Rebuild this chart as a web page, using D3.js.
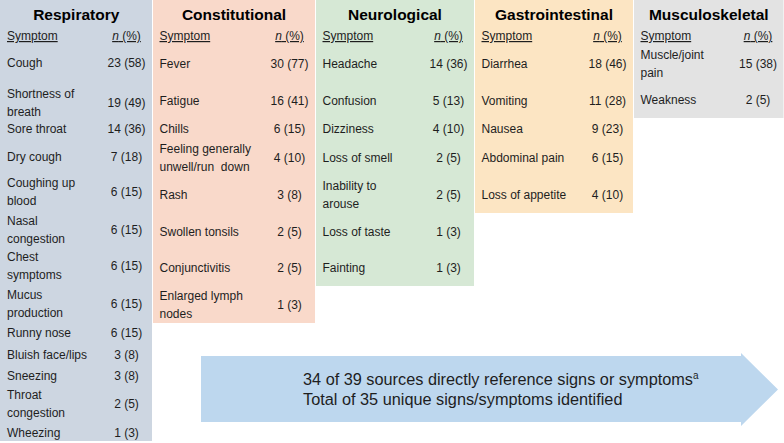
<!DOCTYPE html>
<html>
<head>
<meta charset="utf-8">
<script src="https://cdn.jsdelivr.net/npm/d3@7"></script>
<style>
  html, body { margin: 0; padding: 0; background: #ffffff; }
  svg { display: block; font-family: "Liberation Sans", Arial, sans-serif; }
</style>
</head>
<body>
<div id="chart"></div>
<script>
// ---------------- DATA ----------------
const categories = ["Respiratory", "Constitutional", "Neurological", "Gastrointestinal", "Musculoskeletal"];

const respiratorySymptoms = ["Cough", "Shortness of\nbreath", "Sore throat", "Dry cough", "Coughing up\nblood",
  "Nasal\ncongestion", "Chest\nsymptoms", "Mucus\nproduction", "Runny nose", "Bluish face/lips",
  "Sneezing", "Throat\ncongestion", "Wheezing"];
const respiratoryN   = [23, 19, 14, 7, 6, 6, 6, 6, 6, 3, 3, 2, 1];
const respiratoryPct = [58, 49, 36, 18, 15, 15, 15, 15, 15, 8, 8, 5, 3];

const constitutionalSymptoms = ["Fever", "Fatigue", "Chills", "Feeling generally\nunwell/run  down", "Rash",
  "Swollen tonsils", "Conjunctivitis", "Enlarged lymph\nnodes"];
const constitutionalN   = [30, 16, 6, 4, 3, 2, 2, 1];
const constitutionalPct = [77, 41, 15, 10, 8, 5, 5, 3];

const neurologicalSymptoms = ["Headache", "Confusion", "Dizziness", "Loss of smell", "Inability to\narouse",
  "Loss of taste", "Fainting"];
const neurologicalN   = [14, 5, 4, 2, 2, 1, 1];
const neurologicalPct = [36, 13, 10, 5, 5, 3, 3];

const gastroSymptoms = ["Diarrhea", "Vomiting", "Nausea", "Abdominal pain", "Loss of appetite"];
const gastroN   = [18, 11, 9, 6, 4];
const gastroPct = [46, 28, 23, 15, 10];

const muscoSymptoms = ["Muscle/joint\npain", "Weakness"];
const muscoN   = [15, 2];
const muscoPct = [38, 5];

const headerLabels = ["Symptom", "n", " (%)"];
const arrowLines = ["34 of 39 sources directly reference signs or symptoms", "Total of 35 unique signs/symptoms identified"];
const arrowSuperscript = "a";

// ---------------- LAYOUT / STYLE ----------------
const W = 784, H = 443;
const panelEdges = [0, 152.5, 315.5, 474.5, 633.5, 784];
const panelColors = ["#cdd6e1", "#f9d9ca", "#d6e8d5", "#fce5c3", "#e3e3e3"];
const rowCentersRespiratory = [63, 102.5, 129, 157, 192, 230, 266, 304, 333, 355, 376, 404, 433];
const rowCentersCommon = [64, 101, 129, 158, 195, 232, 268, 305];
const rowCentersMusco = [64, 100];
const textColor = "#1e1e1e";

const panels = [
  {name: categories[0], s: respiratorySymptoms, n: respiratoryN, p: respiratoryPct, rows: rowCentersRespiratory},
  {name: categories[1], s: constitutionalSymptoms, n: constitutionalN, p: constitutionalPct, rows: rowCentersCommon},
  {name: categories[2], s: neurologicalSymptoms, n: neurologicalN, p: neurologicalPct, rows: rowCentersCommon},
  {name: categories[3], s: gastroSymptoms, n: gastroN, p: gastroPct, rows: rowCentersCommon},
  {name: categories[4], s: muscoSymptoms, n: muscoN, p: muscoPct, rows: rowCentersMusco}
];

const svg = d3.select("#chart").append("svg")
  .attr("width", W).attr("height", H)
  .attr("viewBox", `0 0 ${W} ${H}`);

panels.forEach((pn, i) => {
  const x0 = panelEdges[i], x1 = panelEdges[i + 1];
  const last = pn.rows[pn.s.length - 1];
  const bottom = Math.min(H - 2, last + 18);
  const g = svg.append("g");
  g.append("rect")
    .attr("x", x0 + (i === 0 ? 0 : 0.5)).attr("y", 0)
    .attr("width", x1 - x0 - (i === 0 ? 0.5 : 1)).attr("height", bottom)
    .attr("fill", panelColors[i]);

  const cx = (x0 + x1) / 2;
  const leftX = x0 + 7;
  const valX = x1 - 26;

  g.append("text")
    .attr("x", cx).attr("y", 19.5)
    .attr("text-anchor", "middle")
    .attr("font-size", 15.5).attr("font-weight", "bold")
    .attr("fill", "#000")
    .text(pn.name);

  g.append("text")
    .attr("x", leftX).attr("y", 40)
    .attr("font-size", 12).attr("fill", textColor)
    .attr("text-decoration", "underline")
    .text(headerLabels[0]);

  const hv = g.append("text")
    .attr("x", valX).attr("y", 40)
    .attr("text-anchor", "middle")
    .attr("font-size", 12).attr("fill", textColor)
    .attr("text-decoration", "underline");
  hv.append("tspan").attr("font-style", "italic").text(headerLabels[1]);
  hv.append("tspan").text(headerLabels[2]);

  pn.s.forEach((label, j) => {
    const c = pn.rows[j];
    const lines = label.split("\n");
    const t = g.append("text")
      .attr("font-size", 12).attr("fill", textColor)
      .attr("xml:space", "preserve");
    lines.forEach((ln, k) => {
      t.append("tspan")
        .attr("x", leftX)
        .attr("y", c + 4.3 + (k - (lines.length - 1) / 2) * 18)
        .text(ln);
    });
    g.append("text")
      .attr("x", valX).attr("y", c + 4.3)
      .attr("text-anchor", "middle")
      .attr("font-size", 12).attr("fill", textColor)
      .text(`${pn.n[j]} (${pn.p[j]})`);
  });
});

// ---------------- ARROW ----------------
const ax0 = 201, ax1 = 741, aTip = 778, aTop = 356, aBot = 422, hTop = 353, hBot = 426;
const aMid = (aTop + aBot) / 2 + 0.5;
svg.append("path")
  .attr("d", d3.line()([[ax0, aTop], [ax1, aTop], [ax1, hTop], [aTip, aMid], [ax1, hBot], [ax1, aBot], [ax0, aBot]]) + "Z")
  .attr("fill", "#bdd7ee");

arrowLines.forEach((ln, k) => {
  const t = svg.append("text")
    .attr("x", 303).attr("y", 385 + k * 20)
    .attr("font-size", 16.3).attr("fill", textColor)
    .text(ln);
  if (k === 0) {
    t.append("tspan").attr("font-size", 10).attr("dy", -6).text(arrowSuperscript);
  }
});
</script>
</body>
</html>
